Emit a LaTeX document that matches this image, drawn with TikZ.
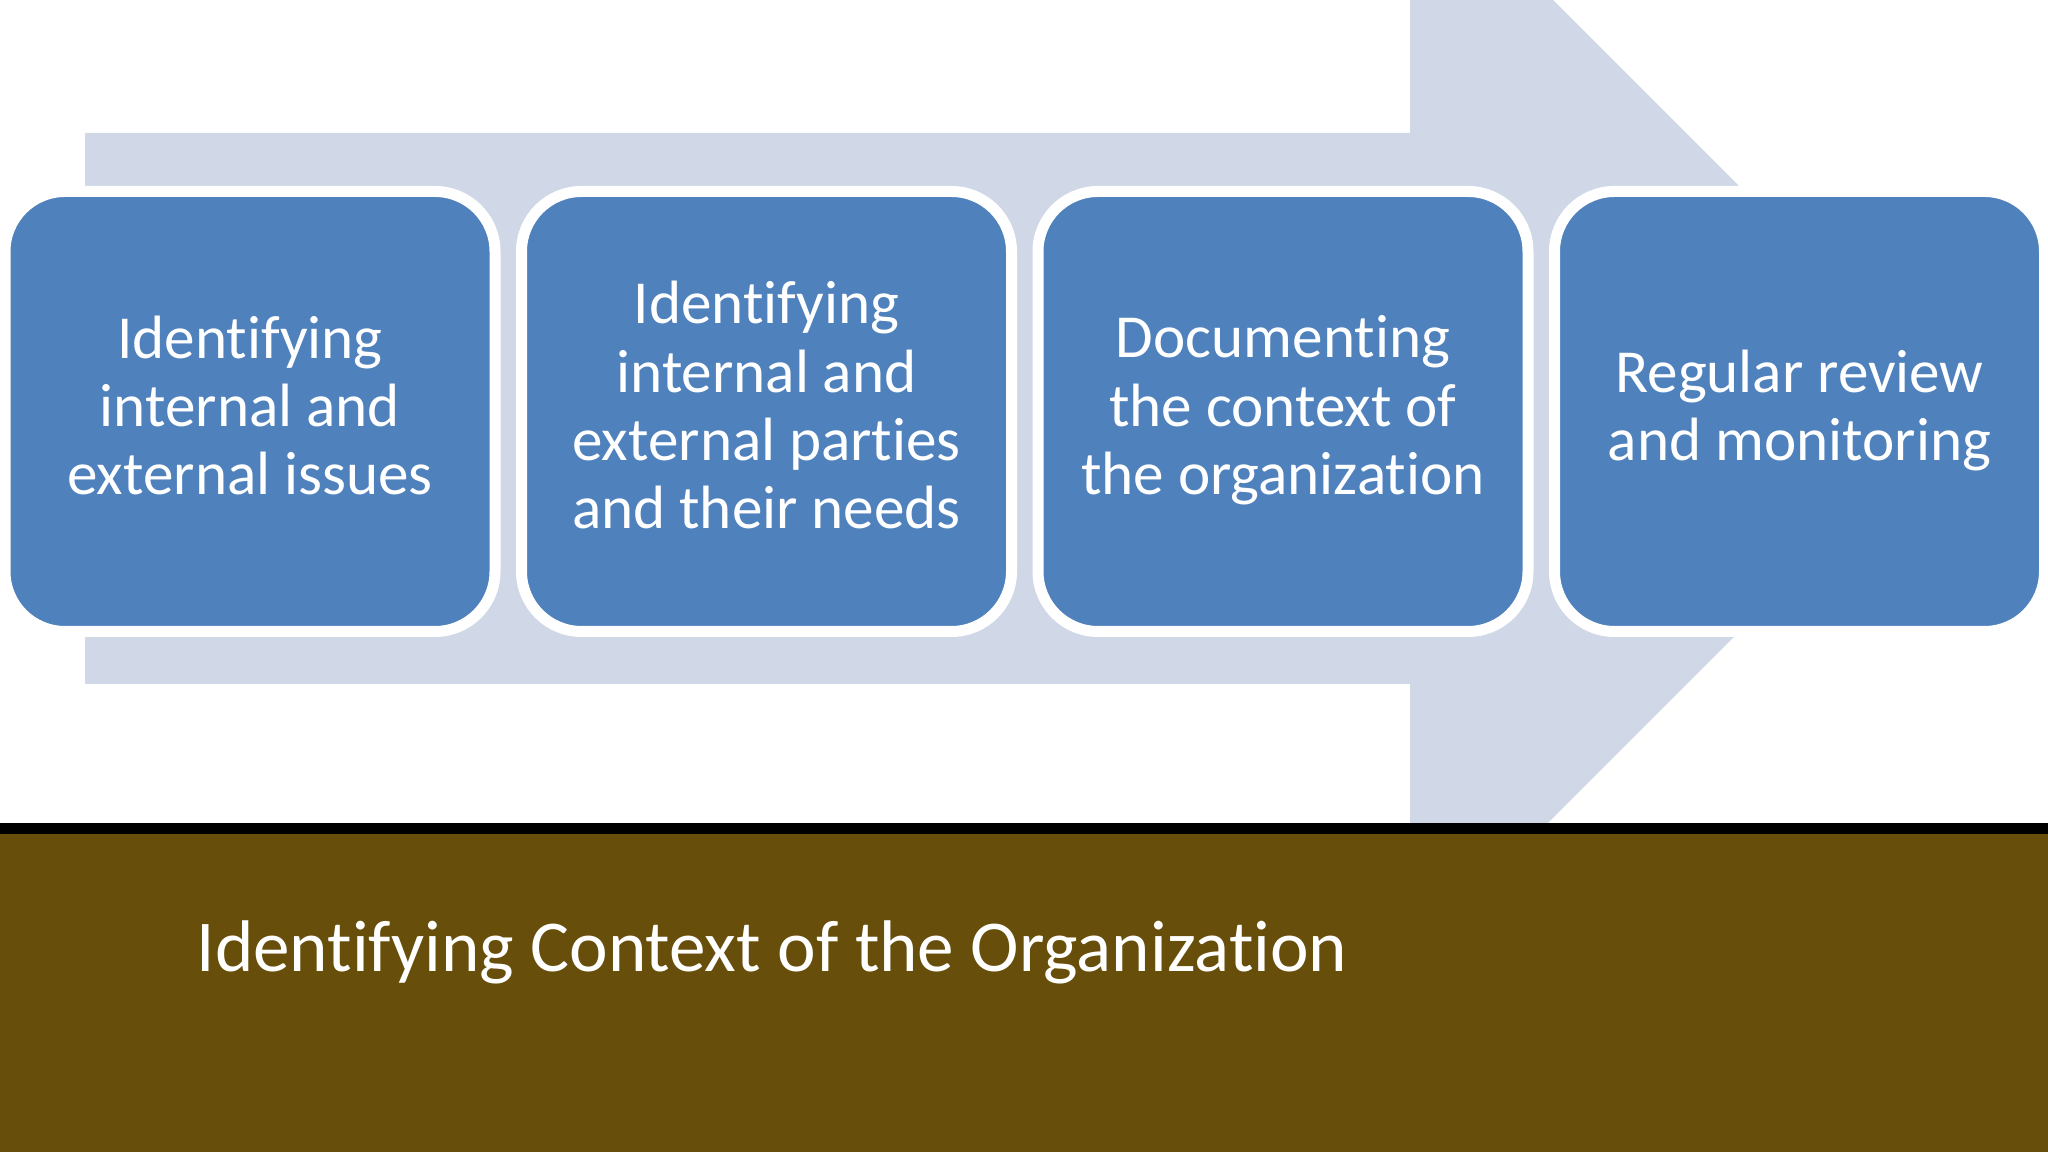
\documentclass[tikz,border=0pt]{standalone}
\usepackage{fontspec}
\setmainfont[Ligatures=NoCommon]{Carlito}
\usepackage{tikz}
\definecolor{stageblue}{RGB}{79,129,189}
\definecolor{arrowpale}{RGB}{208,216,232}
\definecolor{bandbrown}{RGB}{103,78,10}
\tikzset{
	stagebox/.style={draw=white, line width=0.11cm, fill=stageblue, rounded corners=0.6cm,
		minimum width=4.9cm, minimum height=4.4cm, inner sep=0pt, align=center, text=white,
		font=\fontsize{17.4}{19.4}\selectfont, execute at end node=\rule[-3.7pt]{0pt}{0pt}}
}

\begin{document}
\begin{tikzpicture}
			%%%%% START %%%%%
			
			\useasboundingbox (0, 0) rectangle (20.48, 11.52);
			\clip (0, 0) rectangle (20.48, 11.52);
			\fill[white] (0, 0) rectangle (20.48, 11.52);
			
			% big arrow behind the stages
			\fill[arrowpale] (0.85, 10.19) -- (14.10, 10.19) -- (14.10, 12.95) -- (19.62, 7.43)
				-- (14.10, 1.91) -- (14.10, 4.68) -- (0.85, 4.68) -- cycle;
			
			\node[stagebox] (issues) at (2.50, 7.405) {Identifying\\internal and\\external issues};
			\node[stagebox] (parties) at (7.665, 7.405) {Identifying\\internal and\\external parties\\and their needs};
			\node[stagebox] (document) at (12.83, 7.405) {Documenting\\the context of\\the organization};
			\node[stagebox] (review) at (17.995, 7.405) {Regular review\\and monitoring};
			
			% title band
			\fill[black] (0, 3.18) rectangle (20.48, 3.29);
			\fill[bandbrown] (0, 0) rectangle (20.48, 3.18);
			\node[anchor=base west, inner sep=0pt, text=white, font=\fontsize{20.8}{25}\selectfont] (title) at (1.96, 1.80) {Identifying Context of the Organization};
			
			%%%%% END %%%%%
		\end{tikzpicture}
\end{document}
